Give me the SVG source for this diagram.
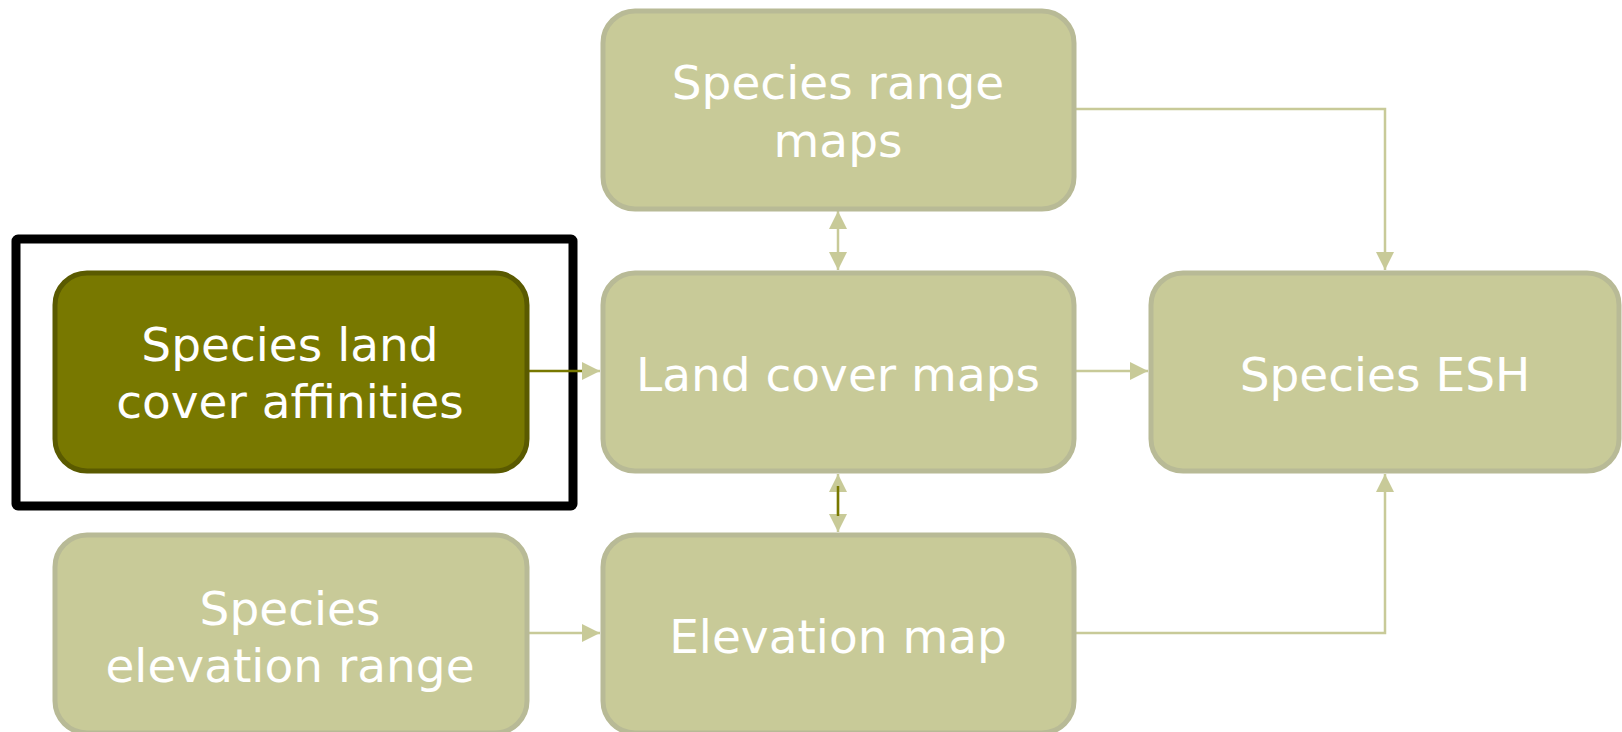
<svg xmlns="http://www.w3.org/2000/svg" width="1622" height="732" viewBox="0 0 1622 732">
<style>
.box{fill:#c8ca98;stroke:#b8ba96;stroke-width:5}
.dark{fill:#787800;stroke:#5a5a00;stroke-width:5}
.t{font-family:"DejaVu Sans",sans-serif;font-size:47px;fill:#ffffff;text-anchor:middle}
.c{fill:none;stroke:#c8ca98;stroke-width:2.5}
.cd{fill:none;stroke:#787800;stroke-width:2.5}
</style>
<defs>
<marker id="ah" viewBox="0 0 10 10" refX="10" refY="5" markerWidth="18" markerHeight="18" markerUnits="userSpaceOnUse" orient="auto-start-reverse">
<path d="M0,0 L10,5 L0,10 z" fill="#c8ca98"/>
</marker>
</defs>
<rect x="16" y="239" width="557" height="267" fill="none" stroke="#000" stroke-width="9" rx="2"/>
<g id="connectors">
<path class="c" d="M1074,109 H1385 V270" marker-end="url(#ah)"/>
<path class="c" d="M1074,371 H1148" marker-end="url(#ah)"/>
<path class="c" d="M1074,633 H1385 V474" marker-end="url(#ah)"/>
<path class="c" d="M527,633 H600" marker-end="url(#ah)"/>
<path class="cd" d="M527,371 H586"/>
<path class="c" d="M586,371 H600" marker-end="url(#ah)"/>
<path class="c" d="M838,211 V270" marker-start="url(#ah)" marker-end="url(#ah)"/>
<path class="c" d="M838,474 V532" marker-start="url(#ah)" marker-end="url(#ah)"/>
<path class="cd" d="M838,486 V516"/>
</g>
<g id="n-range"><rect class="box" x="603" y="11" width="471" height="198" rx="32"/>
<text class="t" x="838" y="99">Species range</text><text class="t" x="838" y="157">maps</text></g>
<g id="n-affinities"><rect class="dark" x="55" y="273" width="472" height="198" rx="32"/>
<text class="t" x="290" y="361">Species land</text><text class="t" x="290" y="418">cover affinities</text></g>
<g id="n-landcover"><rect class="box" x="603" y="273" width="471" height="198" rx="32"/>
<text class="t" x="838" y="391">Land cover maps</text></g>
<g id="n-esh"><rect class="box" x="1151" y="273" width="468" height="198" rx="32"/>
<text class="t" x="1385" y="391">Species ESH</text></g>
<g id="n-elevrange"><rect class="box" x="55" y="535" width="472" height="198" rx="32"/>
<text class="t" x="290" y="625">Species</text><text class="t" x="290" y="682">elevation range</text></g>
<g id="n-elevmap"><rect class="box" x="603" y="535" width="471" height="198" rx="32"/>
<text class="t" x="838" y="653">Elevation map</text></g>
</svg>
